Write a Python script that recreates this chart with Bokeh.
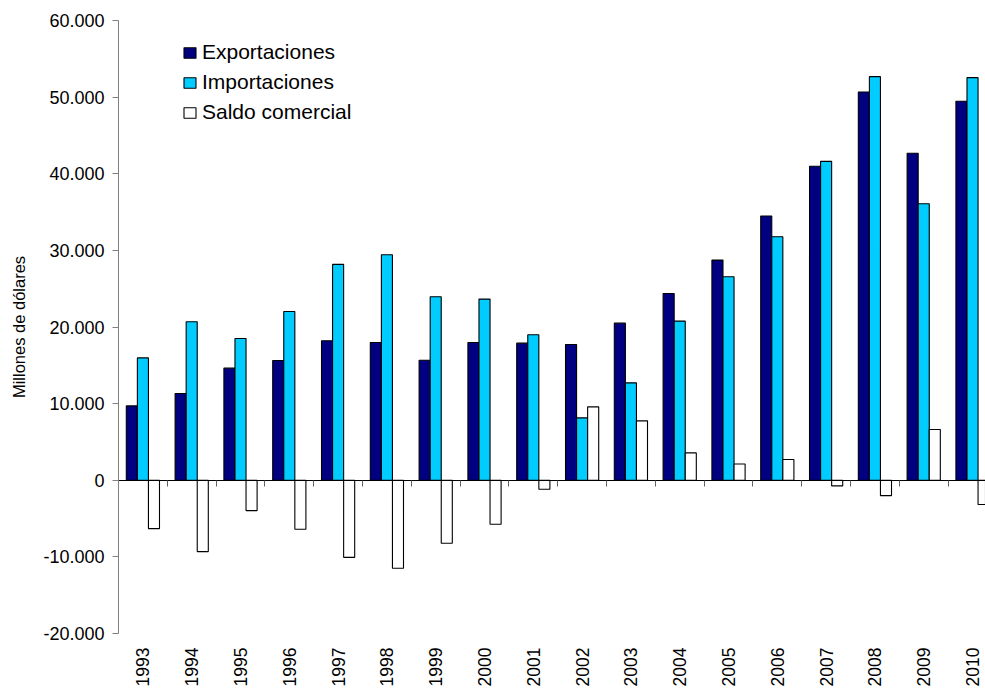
import numpy as np
from math import pi
from bokeh.plotting import figure
from bokeh.models import Range1d, FixedTicker, LinearAxis, Legend, LegendItem, ColumnDataSource
from bokeh.embed import file_html
from bokeh.resources import INLINE

years = ["1993", "1994", "1995", "1996", "1997", "1998", "1999", "2000", "2001",
         "2002", "2003", "2004", "2005", "2006", "2007", "2008", "2009", "2010"]
exportaciones = [9700, 11320, 14630, 15630, 18200, 17980, 15670, 17980, 17890,
                 17720, 20500, 24380, 28730, 34480, 40970, 50670, 42670, 49460]
importaciones = [15970, 20680, 18500, 22030, 28170, 29430, 23940, 23640, 18980,
                 8140, 12710, 20770, 26550, 31780, 41620, 52670, 36090, 52540]
saldo_comercial = [-6310, -9310, -3960, -6400, -10060, -11490, -8230, -5750, -1180,
                   9580, 7750, 3570, 2130, 2700, -740, -2000, 6620, -3170]
y_ticks = [-20000, -10000, 0, 10000, 20000, 30000, 40000, 50000, 60000]
y_tick_labels = ["-20.000", "-10.000", "0", "10.000", "20.000", "30.000",
                 "40.000", "50.000", "60.000"]

FONT = "Liberation Sans"
n = len(years)
centers = np.arange(n) + 0.5
bw = 0.2267

src = ColumnDataSource(dict(
    xe=centers - bw, xi=centers, xs=centers + bw,
    exp=exportaciones, imp=importaciones, sal=saldo_comercial))

p = figure(width=985, height=689, output_backend="svg", toolbar_location=None,
           x_range=Range1d(0, 17.766), y_range=Range1d(-20000, 60000),
           x_axis_type=None, y_axis_type=None,
           min_border_left=118, min_border_right=0, min_border_top=20,
           min_border_bottom=56)
p.outline_line_color = None
p.xgrid.visible = False
p.ygrid.visible = False
p.background_fill_color = "white"
p.border_fill_color = "white"

r_exp = p.vbar(x="xe", top="exp", bottom=0, width=bw, source=src,
               fill_color="#000080", line_color="black", line_width=1.1)
r_imp = p.vbar(x="xi", top="imp", bottom=0, width=bw, source=src,
               fill_color="#00CCFF", line_color="black", line_width=1.1)
r_sal = p.vbar(x="xs", top="sal", bottom=0, width=bw, source=src,
               fill_color="white", line_color="black", line_width=1.1)

# y axis
yaxis = LinearAxis(ticker=FixedTicker(ticks=y_ticks, minor_ticks=[]),
                   major_label_overrides={t: l for t, l in zip(y_ticks, y_tick_labels)},
                   axis_label="Millones de dólares")
yaxis.axis_line_color = "#808080"
yaxis.major_tick_line_color = "#808080"
yaxis.major_tick_out = 6
yaxis.major_tick_in = 0
yaxis.major_label_standoff = 8
yaxis.major_label_text_font = FONT
yaxis.major_label_text_font_size = "18px"
yaxis.major_label_text_color = "black"
yaxis.axis_label_text_font = FONT
yaxis.axis_label_text_font_size = "16.5px"
yaxis.axis_label_text_font_style = "normal"
yaxis.axis_label_text_color = "black"
yaxis.axis_label_standoff = 12
p.add_layout(yaxis, "left")

# category labels at the bottom
xlab = LinearAxis(ticker=FixedTicker(ticks=list(centers), minor_ticks=[]),
                  major_label_overrides={float(c): y for c, y in zip(centers, years)})
xlab.axis_line_color = None
xlab.major_tick_line_color = None
xlab.major_tick_out = 0
xlab.major_tick_in = 0
xlab.major_label_standoff = 14
xlab.major_label_orientation = pi / 2
xlab.major_label_text_font = FONT
xlab.major_label_text_font_size = "17.5px"
xlab.major_label_text_color = "black"
p.add_layout(xlab, "below")

# zero line with category-boundary ticks
zaxis = LinearAxis(ticker=FixedTicker(ticks=list(range(1, n)), minor_ticks=[]),
                   fixed_location=0,
                   major_label_overrides={k: "" for k in range(1, n)})
zaxis.axis_line_color = "black"
zaxis.axis_line_width = 1.2
zaxis.major_tick_line_color = "#606060"
zaxis.major_tick_out = 0
zaxis.major_tick_in = 6
zaxis.major_label_standoff = 0
zaxis.major_label_text_font_size = "1px"
p.add_layout(zaxis, "above")

legend = Legend(items=[LegendItem(label="Exportaciones", renderers=[r_exp]),
                       LegendItem(label="Importaciones", renderers=[r_imp]),
                       LegendItem(label="Saldo comercial", renderers=[r_sal])],
                location=(64, 509))
legend.border_line_color = None
legend.background_fill_alpha = 0
legend.padding = 0
legend.margin = 0
legend.glyph_width = 15
legend.glyph_height = 13
legend.label_standoff = 5
legend.spacing = 6
legend.label_text_font = FONT
legend.label_text_font_size = "21px"
legend.label_text_color = "black"
p.add_layout(legend)

open("out.html", "w").write(file_html(p, INLINE))
